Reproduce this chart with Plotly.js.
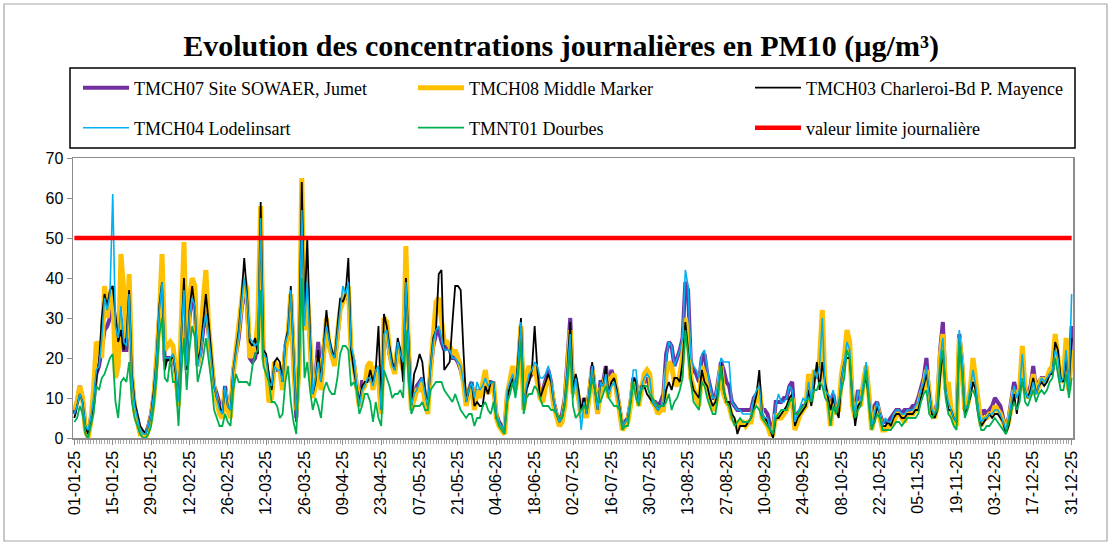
<!DOCTYPE html>
<html>
<head>
<meta charset="utf-8">
<script src="https://cdn.plot.ly/plotly-3.0.1.min.js"></script>
<style>html,body{margin:0;padding:0;background:#fff;}#chart{width:1111px;height:545px;}</style>
</head>
<body>
<div id="chart"></div>
<script>
// ---- Data (daily PM10, µg/m³, 2025) ----
const START_YEAR = 2025;
const LIMIT = 50;
const SERIES_NAMES = ["TMCH07 Site SOWAER, Jumet", "TMCH08 Middle Marker", "TMCH03 Charleroi-Bd P. Mayence", "TMCH04 Lodelinsart", "TMNT01 Dourbes", "valeur limite journalière"];

const TMCH07 = [
6,9,13,10,3,1,5,9,16,18,22,27,28,30,34,27,24,30,22,22,33,15,8,5,2,1,1,3,6,11,19,31,37,19,20,20,20,
16,8,25,37,17,30,35,32,18,21,27,32,26,19,13,11,8,6,13,8,7,17,21,25,32,38,33,20,19,20,25,55,20,19,13,12,
18,17,17,14,23,25,36,19,5,18,57,27,38,24,11,15,24,15,23,28,23,21,19,25,32,35,35,37,22,19,13,8,14,14,15,
15,13,17,17,7,25,26,21,18,17,23,20,18,38,21,8,11,13,14,15,11,8,17,23,26,27,24,22,23,22,20,20,19,17,14,9,12,
14,9,12,11,13,14,14,14,13,6,4,3,2,11,14,16,12,18,28,8,13,15,16,18,16,10,12,15,17,14,9,6,4,6,10,20,30,
12,15,10,6,10,7,12,18,12,7,14,14,18,12,17,15,12,7,3,4,5,9,15,14,9,13,14,15,13,9,9,8,9,11,21,24,
23,18,20,22,25,39,37,19,17,16,14,20,21,16,13,10,10,14,19,17,14,13,9,8,7,7,7,7,7,7,10,11,12,7,7,6,3,
2,9,9,9,10,10,13,14,4,6,7,8,8,14,9,16,15,18,29,12,10,9,11,7,7,15,19,24,22,10,6,12,9,13,18,11,3,
8,9,6,4,4,4,5,6,7,7,6,7,7,7,8,8,10,13,15,20,11,7,6,9,22,29,13,8,7,5,4,26,19,7,8,
12,17,13,7,5,7,6,7,8,10,9,8,5,2,5,9,14,11,12,20,12,11,13,18,12,14,15,15,15,16,17,22,20,14,15,21,12,28
];

const TMCH08 = [
7,9,13,10,2,0,4,12,24,23,20,38,30,36,38,15,18,46,37,25,41,15,7,4,1,1,0,2,5,10,19,30,46,22,23,24,23,
17,8,30,49,18,35,40,38,18,24,34,42,28,20,12,9,6,5,12,7,5,16,22,26,33,40,37,20,22,22,30,58,20,18,9,10,
19,18,17,12,22,26,36,18,7,18,65,27,37,24,10,13,20,12,22,30,23,20,18,26,32,34,37,38,22,18,12,8,12,13,18,
19,12,18,15,6,30,29,22,18,16,23,20,17,48,20,7,10,12,12,14,9,6,17,24,34,35,30,24,24,23,21,22,20,18,14,8,11,
13,7,12,10,13,17,11,13,14,5,3,2,1,11,15,18,12,17,28,7,16,18,16,18,14,10,9,13,15,13,8,5,3,4,8,17,27,
11,14,10,5,9,5,11,17,11,6,12,12,16,10,15,16,11,7,2,3,4,8,14,13,8,12,16,17,16,9,8,6,7,7,16,19,
18,14,13,16,20,30,26,15,12,10,8,18,16,12,9,7,8,12,18,11,9,8,5,4,3,4,4,3,4,4,8,10,13,5,4,3,1,
1,6,5,5,6,7,9,10,2,4,6,7,8,16,9,17,15,20,32,13,10,3,9,6,7,16,20,27,24,8,5,9,8,14,18,11,2,
5,8,5,2,2,3,3,4,6,6,5,4,6,6,6,7,8,11,13,17,10,6,5,8,20,26,12,14,7,4,3,25,18,7,8,
12,20,14,7,3,5,5,6,6,8,7,6,4,2,4,8,12,10,12,23,12,10,11,16,11,13,15,14,15,17,18,26,21,14,15,25,12,22
];

const TMCH03 = [
5,8,11,9,3,1,5,8,15,19,30,36,33,37,38,30,24,27,22,25,37,16,9,6,3,2,1,3,6,12,20,33,39,17,20,19,21,
16,9,25,40,17,32,38,32,19,22,29,36,29,20,13,10,8,6,13,8,7,17,22,27,35,45,36,24,23,25,21,59,22,21,16,12,
19,20,19,14,24,27,38,20,4,20,64,30,50,26,11,14,22,14,24,32,25,22,20,27,35,34,36,45,22,17,13,9,13,14,14,
17,14,17,28,7,31,28,23,19,17,25,22,14,40,22,8,16,18,21,19,12,8,18,25,27,41,42,17,18,19,29,38,38,37,22,9,12,
14,8,9,8,8,13,11,14,14,5,4,3,2,10,13,15,12,20,30,8,12,14,17,28,17,10,12,14,16,14,9,6,4,5,9,18,29,
12,16,12,7,10,6,12,19,12,7,14,13,18,11,14,15,12,8,3,4,5,9,15,14,9,13,13,11,10,9,8,7,8,8,12,14,
12,15,15,14,19,29,22,15,12,11,10,17,14,13,10,8,9,12,19,12,9,9,6,5,1,3,3,3,4,5,8,11,17,6,5,4,2,
0,5,5,6,7,8,10,11,3,5,6,7,8,12,8,13,19,12,19,14,10,7,10,7,5,15,19,20,20,10,3,8,9,13,15,10,3,
4,8,6,3,3,4,3,5,6,6,5,5,6,6,6,7,7,10,13,16,12,6,5,7,15,22,12,7,7,5,4,25,19,6,8,
10,14,12,6,3,4,5,6,5,6,6,5,4,1,3,7,11,6,12,14,12,10,12,15,11,13,14,13,14,16,16,24,22,15,14,20,13,25
];

const TMCH04 = [
6,8,11,9,3,2,5,10,17,18,25,35,32,36,61,28,25,33,24,23,36,15,8,5,2,1,1,3,6,11,20,32,39,20,20,20,21,
17,9,26,37,18,31,35,33,18,21,27,31,26,19,13,10,7,6,13,8,7,17,22,26,34,40,35,25,24,23,24,55,21,20,14,13,
18,17,17,14,24,26,37,20,5,19,57,28,39,25,11,15,19,14,23,28,24,21,20,26,33,38,36,39,23,20,13,8,12,13,15,
15,13,17,18,7,26,27,22,18,17,24,21,19,39,22,8,11,12,14,15,11,8,18,24,27,28,25,22,22,22,20,20,19,18,14,9,12,
14,10,14,12,13,15,13,14,14,6,4,3,2,12,14,16,12,19,29,8,13,16,17,19,18,15,15,16,18,15,9,6,4,5,9,18,26,
10,15,10,2,9,6,12,18,12,7,14,13,16,11,13,14,11,7,3,4,5,10,17,17,9,13,15,16,15,9,8,7,8,9,20,24,
23,18,20,22,25,42,38,20,18,17,15,21,22,17,13,10,10,14,20,19,19,19,9,8,7,7,6,6,6,6,10,12,13,6,5,5,2,
1,8,11,9,9,10,13,12,4,6,8,10,9,14,9,17,15,18,30,12,11,10,12,7,8,15,19,24,22,10,6,12,9,14,19,11,3,
6,9,6,3,5,4,4,6,7,7,6,6,7,7,7,8,9,12,14,18,11,7,6,9,20,25,12,9,7,5,4,27,20,7,8,
12,17,13,7,4,5,5,6,6,7,7,6,4,2,5,9,13,10,12,21,12,10,11,14,11,13,15,14,15,16,17,22,20,14,15,22,12,36
];

const TMNT01 = [
4,5,8,6,1,0,3,6,13,12,15,16,18,20,21,9,5,14,15,14,19,9,5,3,1,0,0,1,3,8,15,26,30,15,14,20,14,
14,3,16,25,12,22,28,25,14,17,20,25,20,14,7,5,3,3,6,4,3,12,16,14,14,14,14,13,18,21,22,37,18,16,14,9,
9,8,5,6,14,18,9,4,1,17,40,15,19,12,7,10,8,5,12,14,12,11,11,15,21,23,23,22,13,14,12,6,8,11,11,
9,4,9,5,3,17,15,13,10,11,11,12,10,27,14,6,8,8,8,9,7,7,12,13,14,14,14,12,11,10,9,11,9,7,6,5,6,
6,3,5,5,8,9,7,6,9,5,3,2,1,9,11,14,10,16,24,6,10,11,11,13,12,10,8,8,8,7,7,6,5,5,8,14,22,
8,5,6,7,8,7,10,15,12,9,9,11,13,10,9,8,8,7,2,3,3,8,14,10,8,12,13,13,11,10,9,8,8,8,9,11,
7,9,10,12,15,27,21,14,9,8,7,14,13,10,8,6,6,11,18,12,9,8,5,3,4,5,4,4,4,5,7,8,7,5,4,3,2,
1,5,6,7,7,7,9,10,6,6,7,8,9,10,9,12,12,14,13,10,9,3,8,6,9,12,15,22,20,8,5,7,8,12,17,8,2,
4,6,5,2,2,2,2,3,4,4,3,4,5,5,5,5,6,9,11,12,6,5,6,7,18,22,10,6,5,3,2,24,16,5,7,
11,12,10,5,2,2,3,3,4,5,4,3,2,1,4,7,9,7,9,15,9,8,10,12,9,11,12,11,12,14,15,20,16,12,12,16,10,15
];

// ---- Dates (category axis) ----
const DATES = [];
for (let t = Date.UTC(START_YEAR, 0, 1); new Date(t).getUTCFullYear() === START_YEAR; t += 86400000) {
  DATES.push(new Date(t).toISOString().slice(0, 10));
}
function lbl(s) { return s.slice(8, 10) + "-" + s.slice(5, 7) + "-" + s.slice(2, 4); }
const TICK_VALS = DATES.filter((d, i) => i % 14 === 0);
const TICK_TEXT = TICK_VALS.map(lbl);

const COLORS = ["#7030A0", "#FFC000", "#000000", "#00B0F0", "#00B050", "#FF0000"];
const WIDTHS = [4, 5, 1.8, 1.6, 1.8, 4.5];
const VALUES = [TMCH07, TMCH08, TMCH03, TMCH04, TMNT01];
const LEGEND_IDS = ["legend", "legend2", "legend3", "legend4", "legend5", "legend6"];

const traces = VALUES.map((v, i) => ({
  type: "scatter", mode: "lines", x: DATES, y: v, name: SERIES_NAMES[i],
  line: { color: COLORS[i], width: WIDTHS[i] },
  legend: LEGEND_IDS[i]
}));
traces.push({
  type: "scatter", mode: "lines", x: [DATES[0], DATES[DATES.length - 1]], y: [LIMIT, LIMIT],
  name: SERIES_NAMES[5], line: { color: COLORS[5], width: WIDTHS[5] }, legend: LEGEND_IDS[5]
});

const W = 1111, H = 545, L = 73, R = 1073, T = 158, B = 438;
const px = x => (x - L) / (R - L);
const py = y => (B - y) / (B - T);

const legendFont = { family: "Liberation Serif, Times New Roman, serif", size: 18, color: "#000" };
function leg(xLine, yRow) {
  return {
    orientation: "h", xanchor: "left", yanchor: "middle", bgcolor: "rgba(0,0,0,0)",
    borderwidth: 0, font: legendFont, itemwidth: 46,
    x: px(xLine - 5), y: py(yRow)
  };
}
const COLS = [83, 418, 755];
const ROWS = [88, 128];

const layout = {
  width: W, height: H,
  margin: { l: L, r: W - R, t: T, b: H - B, pad: 0 },
  paper_bgcolor: "#fff", plot_bgcolor: "#fff",
  title: {
    text: "<b>Evolution des concentrations journalières en PM10 (µg/m³)</b>",
    font: { family: "Liberation Serif, Times New Roman, serif", size: 30, color: "#000" },
    x: 0.505, xanchor: "center", y: 1 - 45 / H, yanchor: "middle"
  },
  showlegend: true,
  xaxis: {
    type: "date",
    range: [DATES[0] + " 00:00", DATES[DATES.length - 1] + " 00:00"].map((s, i) => {
      const t = Date.parse(s.replace(" ", "T") + "Z") + (i === 0 ? -1 : 1) * 43200000;
      return new Date(t).toISOString().replace("T", " ").slice(0, 19);
    }),
    tickmode: "array", tickvals: TICK_VALS, ticktext: TICK_TEXT, tickangle: -90,
    ticks: "outside", ticklen: 5, tickcolor: "#8c8c8c", tickwidth: 1,
    minor: { dtick: 86400000, tick0: DATES[0], ticks: "outside", ticklen: 4, tickcolor: "#a6a6a6", tickwidth: 1, showgrid: false },
    showgrid: false, zeroline: false,
    showline: true, linecolor: "#8c8c8c", linewidth: 1.5, mirror: true,
    tickfont: { family: "Liberation Sans, Arial, sans-serif", size: 16, color: "#000" }
  },
  yaxis: {
    range: [0, 70], dtick: 10, tick0: 0,
    ticks: "outside", ticklen: 5, tickcolor: "#8c8c8c",
    showgrid: false, zeroline: false,
    showline: true, linecolor: "#8c8c8c", linewidth: 1.5, mirror: true,
    tickfont: { family: "Liberation Sans, Arial, sans-serif", size: 16, color: "#000" }
  },
  shapes: [
    { type: "rect", xref: "paper", yref: "paper", x0: px(70), x1: px(1075), y0: py(148), y1: py(68),
      line: { color: "#000", width: 1.5 }, fillcolor: "rgba(0,0,0,0)", layer: "above" },
    { type: "rect", xref: "paper", yref: "paper", x0: px(4), x1: px(1107), y0: py(541), y1: py(4),
      line: { color: "#a6a6a6", width: 1.2 }, fillcolor: "rgba(0,0,0,0)", layer: "below" }
  ]
};
LEGEND_IDS.forEach((id, i) => { layout[id] = leg(COLS[i % 3], ROWS[Math.floor(i / 3)]); });

Plotly.newPlot("chart", traces, layout, { displayModeBar: false, staticPlot: true });
</script>
</body>
</html>
